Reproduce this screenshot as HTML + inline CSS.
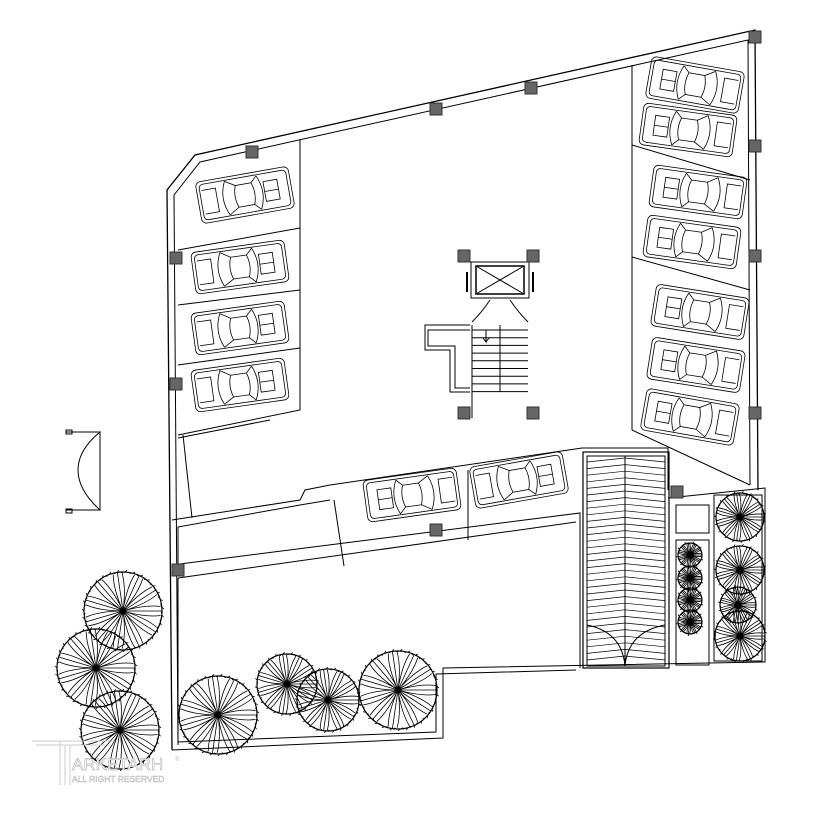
<!DOCTYPE html>
<html><head><meta charset="utf-8"><style>
html,body{margin:0;padding:0;background:#fff;}
svg{display:block;}
</style></head><body>
<svg id="s" width="815" height="815" viewBox="0 0 815 815" xmlns="http://www.w3.org/2000/svg" fill="none" stroke="#000" stroke-width="1">
<polyline points="172,750 167,190 195,155 755,30 758,490" stroke-width="1.3"/>
<polyline points="178,745 174,195 200,162 748,40 750,485"/>
<line x1="632" y1="65" x2="632" y2="430"/>
<line x1="632" y1="430" x2="750" y2="485"/>
<line x1="632" y1="145" x2="750" y2="180"/>
<line x1="632" y1="257" x2="750" y2="290"/>
<polyline points="300,140 300,410 178,435"/>
<line x1="178" y1="250" x2="300" y2="228"/>
<line x1="178" y1="305" x2="300" y2="290"/>
<line x1="178" y1="365" x2="300" y2="348"/>
<line x1="178" y1="438" x2="270" y2="420"/>
<line x1="183" y1="435" x2="192" y2="518"/>
<polyline points="172,520 300,500 305,490 330,485 582,448 668,448 668,490"/>
<line x1="334" y1="500" x2="344" y2="566"/>
<line x1="468" y1="470" x2="468" y2="540"/>
<polyline points="178,570 178,527 300,505 330,500"/>
<polyline points="172,565 580,513 580,668"/>
<polyline points="178,578 576,522"/>
<polyline points="178,745 178,578"/>
<polyline points="172,750 443,738 443,668 765,662 765,488 668,498"/>
<polyline points="178,742 436,732 436,674 576,670"/>
<rect x="676" y="505" width="33" height="28"/>
<rect x="676" y="540" width="33" height="125"/>
<rect x="714" y="495" width="48" height="166"/>
<rect x="583" y="452" width="86" height="216" stroke-width="1.2"/>
<rect x="587" y="456" width="78" height="210"/>
<line x1="625" y1="456" x2="625" y2="666"/>
<path d="M587,625 Q622,632 625,666 M665,625 Q628,632 625,666"/>
<g id="ramp"></g>
<rect x="471" y="262" width="58" height="36"/>
<rect x="476" y="266" width="48" height="28" stroke-width="1.5"/>
<line x1="476" y1="266" x2="524" y2="294"/><line x1="524" y1="266" x2="476" y2="294"/>
<path d="M467,272 v20 M533,272 v20" stroke-width="2"/>
<path d="M490,300 q-8,12 -18,22 M510,300 q8,12 18,22"/>
<polyline points="472,325 472,418 M528,322 528,418 M470,418 530,418"/>
<polyline points="470,330 428,330 428,346 455,346 455,388 470,388"/>
<polyline points="470,325 425,325 425,350 450,350 450,392 470,392"/>
<line x1="500" y1="325" x2="500" y2="392"/>
<g id="stair"></g>
<path d="M486,330 v12 l-3,-4 M486,342 l3,-4"/>
<path d="M66,432 H100 Q78,450 78,470 Q78,490 100,510 H66 M66,430 v4 h6 v-4z M66,509 v4 h6 v-4z"/>
<line x1="100" y1="432" x2="100" y2="510"/>
<g id="cars"></g>
<g id="trees" stroke-width="0.8"></g>
<g id="cols" fill="#666" stroke="#333"></g>
<g stroke="#ccc" fill="none">
<path d="M32,741 H110 M36,745 H105 M60,741 V785 M65,745 V785 M70,745 V785"/>
</g>
<text x="72" y="770" font-family="Liberation Sans, sans-serif" font-size="17" fill="#fff" stroke="#bbb" stroke-width="0.7">ARKETARH</text>
<text x="72" y="782" font-family="Liberation Sans, sans-serif" font-size="8.5" fill="#fff" stroke="#bbb" stroke-width="0.5">ALL RIGHT RESERVED</text>
<text x="175" y="761" font-family="Liberation Sans, sans-serif" font-size="6" fill="#bbb" stroke="none">®</text>
</svg>
<script>
var NS="http://www.w3.org/2000/svg";
function el(p,t,a){var e=document.createElementNS(NS,t);for(var k in a)e.setAttribute(k,a[k]);p.appendChild(e);return e;}
var g;
g=document.getElementById('ramp');
for(var y=462;y<662;y+=6.6){el(g,'line',{x1:587,y1:y,x2:625,y2:y-4,'stroke-width':0.7});el(g,'line',{x1:625,y1:y-4,x2:665,y2:y,'stroke-width':0.7});}
g=document.getElementById('stair');
for(var y=330;y<=392;y+=7.7){el(g,'line',{x1:472,y1:y,x2:528,y2:y});}
g=document.getElementById('cols');
[[252,152],[436,109],[531,88],[755,37],[755,146],[755,256],[755,413],[176,258],[176,384],[178,570],[436,530],[677,492],[464,256],[533,256],[464,413],[533,413]].forEach(function(c){el(g,'rect',{x:c[0]-6,y:c[1]-6,width:12,height:12});});
g=document.getElementById('cars');
function car(cx,cy,ang,flip){var c=el(g,'g',{transform:'translate('+cx+','+cy+') rotate('+ang+')'+(flip?' scale(-1,1)':''),'stroke-width':0.8});
el(c,'rect',{x:-47,y:-21,width:94,height:42,rx:5});
el(c,'rect',{x:-44,y:-18,width:88,height:36,rx:4});
el(c,'path',{d:'M-18,-17 Q-26,0 -18,17 M14,-17 Q22,0 14,17 M-18,-17 L-8,-11 L8,-11 L14,-17 M-18,17 L-8,11 L8,11 L14,17 M-8,-11 Q-12,0 -8,11 M8,-11 Q12,0 8,11'});
el(c,'rect',{x:20,y:-10,width:14,height:20});el(c,'line',{x1:20,y1:0,x2:34,y2:0});
el(c,'path',{d:'M-42,-12 h14 v24 h-14'});}
[[245,195,-10],[240,267,-8],[240,328,-8],[240,385,-8]].forEach(function(a){car(a[0],a[1],a[2],false);});
[[695,85,10],[688,130,8],[698,192,8],[692,242,8],[700,312,9],[696,365,9],[690,417,10]].forEach(function(a){car(a[0],a[1],a[2],true);});
car(412,495,-8,true);car(519,480,-10,false);
g=document.getElementById('trees');
function tree(cx,cy,r){var t=el(g,'g',{});
el(t,'circle',{cx:cx,cy:cy,r:r,'stroke-width':1.2});
var n=Math.round(r*1.6);var d='';
for(var i=0;i<n;i++){var a=i/n*2*Math.PI;var r2=r+(i%2?2:-1);d+='M'+(cx+r*Math.cos(a)).toFixed(1)+','+(cy+r*Math.sin(a)).toFixed(1)+'L'+(cx+r2*Math.cos(a+0.05)).toFixed(1)+','+(cy+r2*Math.sin(a+0.05)).toFixed(1);}
var m=11;
for(var i=0;i<m;i++){var a=i/m*2*Math.PI;var ex=cx+r*Math.cos(a),ey=cy+r*Math.sin(a);d+='M'+cx+','+cy+'L'+ex.toFixed(1)+','+ey.toFixed(1);
var b1=a+0.28,b2=a-0.28;d+='M'+cx+','+cy+'Q'+(cx+r*0.6*Math.cos(b1)).toFixed(1)+','+(cy+r*0.6*Math.sin(b1)).toFixed(1)+' '+(cx+r*0.97*Math.cos(a+0.12)).toFixed(1)+','+(cy+r*0.97*Math.sin(a+0.12)).toFixed(1);
d+='M'+cx+','+cy+'Q'+(cx+r*0.6*Math.cos(b2)).toFixed(1)+','+(cy+r*0.6*Math.sin(b2)).toFixed(1)+' '+(cx+r*0.97*Math.cos(a-0.12)).toFixed(1)+','+(cy+r*0.97*Math.sin(a-0.12)).toFixed(1);}
el(t,'path',{d:d});}
[[123,611,39],[96,668,39],[120,730,39],[218,715,39],[287,684,30],[328,700,31],[398,690,39],[740,517,24],[740,570,24],[738,605,18],[740,636,25],[690,555,12],[690,578,12],[690,600,12],[690,622,12]].forEach(function(a){tree(a[0],a[1],a[2]);});
</script>
</body></html>
